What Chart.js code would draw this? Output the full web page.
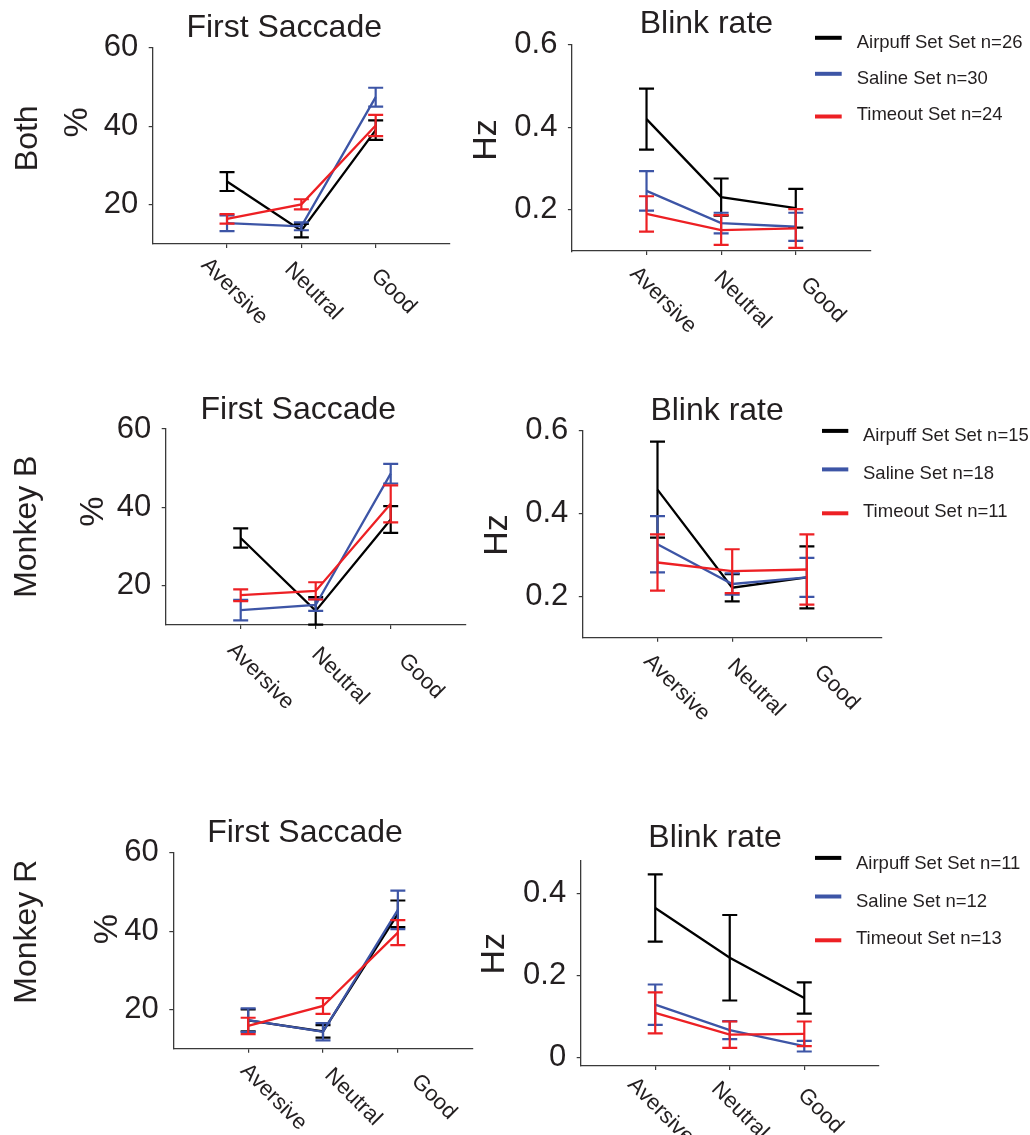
<!DOCTYPE html>
<html>
<head>
<meta charset="utf-8">
<title>First Saccade / Blink rate</title>
<script src="https://cdn.jsdelivr.net/npm/chart.js@4.4.1/dist/chart.umd.min.js"></script>
<style>
    html, body { margin: 0; padding: 0; background: #fff; }
    body { width: 1030px; height: 1135px; position: relative; overflow: hidden; }
    canvas { position: absolute; }
</style>
</head>
<body>
<canvas id="both-saccade"></canvas>
<canvas id="both-blink"></canvas>
<canvas id="monkeyB-saccade"></canvas>
<canvas id="monkeyB-blink"></canvas>
<canvas id="monkeyR-saccade"></canvas>
<canvas id="monkeyR-blink"></canvas>
<script>
// ================================
// Data
// ================================
const categories = ["Aversive", "Neutral", "Good"];
const seriesNames = ["Airpuff Set Set", "Saline Set", "Timeout Set"];
const seriesColors = ["#000000", "#3d55a6", "#ed2024"];

// rows = Airpuff, Saline, Timeout ; columns = Aversive, Neutral, Good
const bothCounts = [26, 30, 24];
const bothSaccadeMean = [[25.9, 13.4, 39.0], [15.3, 14.5, 47.4], [16.4, 20.1, 40.2]];
const bothSaccadeSem = [[2.4, 1.7, 2.5], [2.0, 1.0, 2.4], [1.2, 1.3, 2.7]];
const bothBlinkMean = [[0.42, 0.231, 0.204], [0.246, 0.168, 0.159], [0.19, 0.151, 0.155]];
const bothBlinkSem = [[0.074, 0.045, 0.047], [0.048, 0.025, 0.034], [0.043, 0.036, 0.047]];

const monkeyBCounts = [15, 18, 11];
const monkeyBSaccadeMean = [[32.2, 13.6, 36.9], [13.8, 15.1, 48.6], [17.6, 18.7, 40.9]];
const monkeyBSaccadeSem = [[2.45, 3.5, 3.4], [2.6, 1.5, 2.5], [1.5, 2.2, 4.7]];
const monkeyBBlinkMean = [[0.458, 0.221, 0.246], [0.326, 0.23, 0.246], [0.282, 0.261, 0.265]];
const monkeyBBlinkSem = [[0.116, 0.033, 0.075], [0.068, 0.026, 0.047], [0.068, 0.053, 0.085]];

const monkeyRCounts = [11, 12, 13];
const monkeyRSaccadeMean = [[17.2, 14.4, 44.4], [17.3, 14.3, 45.4], [15.8, 20.9, 39.6]];
const monkeyRSaccadeSem = [[2.8, 1.6, 3.4], [3.0, 2.2, 4.9], [2.1, 2.0, 3.2]];
const monkeyRBlinkMean = [[0.364, 0.243, 0.145], [0.129, 0.067, 0.028], [0.109, 0.056, 0.058]];
const monkeyRBlinkSem = [[0.082, 0.104, 0.038], [0.049, 0.022, 0.013], [0.05, 0.032, 0.03]];

const saccadeTicks = [20, 40, 60];
const blinkTicks = [0.2, 0.4, 0.6];
const blinkTicksR = [0, 0.2, 0.4];

// ================================
// Layout (page pixels)
// ================================
const FONT = '"Liberation Sans", Arial, Helvetica, sans-serif';
const INK = "#231f20";
const AXIS = "#3a3a3a";

const panels = [
    {
        id: "both-saccade", box: [0, 0, 480, 345], plot: [152.7, 47.7, 450, 244],
        means: bothSaccadeMean, sems: bothSaccadeSem, yMin: 10, yMax: 60, yTicks: saccadeTicks,
        title: "First Saccade", titleAt: [284.2, 25.5],
        row: "Both", rowAt: [25, 138.3], yLabel: "%", yLabelAt: [75.8, 122.5],
        labelShift: [38.3, 46],
    },
    {
        id: "both-blink", box: [460, 0, 570, 345], plot: [571.9, 44.9, 870.4, 251.1],
        means: bothBlinkMean, sems: bothBlinkSem, yMin: 0.1, yMax: 0.6, yTicks: blinkTicks,
        title: "Blink rate", titleAt: [706.4, 21.7],
        yLabel: "Hz", yLabelAt: [484, 140], labelShift: [47.6, 47.6],
        legend: { counts: bothCounts, lineX: [815, 841.7], lineYs: [37.8, 73.8, 116.5], textX: 856.7, textYs: [41.7, 77, 113] },
    },
    {
        id: "monkeyB-saccade", box: [0, 370, 480, 360], plot: [165.7, 429, 465.7, 625],
        means: monkeyBSaccadeMean, sems: monkeyBSaccadeSem, yMin: 10, yMax: 60, yTicks: saccadeTicks,
        title: "First Saccade", titleAt: [298.3, 407],
        row: "Monkey B", rowAt: [27.5, 526.7], yLabel: "%", yLabelAt: [91.7, 511.7],
        labelShift: [50.8, 50],
    },
    {
        id: "monkeyB-blink", box: [460, 370, 570, 360], plot: [582.8, 430.9, 881.6, 637.8],
        means: monkeyBBlinkMean, sems: monkeyBBlinkSem, yMin: 0.1, yMax: 0.6, yTicks: blinkTicks,
        title: "Blink rate", titleAt: [717.1, 408],
        yLabel: "Hz", yLabelAt: [495.8, 535], labelShift: [50.2, 48.5],
        legend: { counts: monkeyBCounts, lineX: [822, 848.3], lineYs: [430.9, 469.4, 513.3], textX: 863, textYs: [434.4, 472.2, 510.5] },
    },
    {
        id: "monkeyR-saccade", box: [0, 790, 480, 345], plot: [173.3, 852.7, 472.7, 1048.7],
        means: monkeyRSaccadeMean, sems: monkeyRSaccadeSem, yMin: 10, yMax: 60, yTicks: saccadeTicks,
        title: "First Saccade", titleAt: [305, 830.8],
        row: "Monkey R", rowAt: [27.5, 931.7], yLabel: "%", yLabelAt: [105, 929.2],
        labelShift: [56.5, 47],
    },
    {
        id: "monkeyR-blink", box: [460, 790, 570, 345], plot: [580.7, 860.3, 878.8, 1065.9],
        means: monkeyRBlinkMean, sems: monkeyRBlinkSem, yMin: -0.02, yMax: 0.48, yTicks: blinkTicksR,
        title: "Blink rate", titleAt: [715, 835.8],
        yLabel: "Hz", yLabelAt: [492.8, 953.8], labelShift: [36.5, 43.6],
        legend: { counts: monkeyRCounts, lineX: [815, 841.3], lineYs: [857.9, 896.5, 940.3], textX: 856, textYs: [862.4, 900, 937.5] },
    },
];

// ================================
// Plugins
// ================================
const errorBars = {
    id: "errorBars",
    afterDatasetDraw(chart, args) {
        const ds = chart.data.datasets[args.index];
        const { ctx } = chart;
        const xs = chart.scales.x;
        const ys = chart.scales.y;
        ctx.save();
        ctx.strokeStyle = ds.borderColor;
        ctx.lineWidth = 2.2;
        ds.data.forEach((pt, i) => {
            const px = xs.getPixelForValue(pt.x);
            const top = ys.getPixelForValue(pt.y + ds.sem[i]);
            const bot = ys.getPixelForValue(pt.y - ds.sem[i]);
            ctx.beginPath();
            ctx.moveTo(px, top);
            ctx.lineTo(px, bot);
            ctx.moveTo(px - 7.5, top);
            ctx.lineTo(px + 7.5, top);
            ctx.moveTo(px - 7.5, bot);
            ctx.lineTo(px + 7.5, bot);
            ctx.stroke();
        });
        ctx.restore();
    },
};

// text centred on its ink, optionally rotated around that centre
function inkText(ctx, text, cx, cy, size, angle) {
    ctx.save();
    ctx.font = `${size}px ${FONT}`;
    ctx.fillStyle = INK;
    ctx.textAlign = "center";
    ctx.textBaseline = "alphabetic";
    const m = ctx.measureText(text);
    const mid = (m.actualBoundingBoxAscent - m.actualBoundingBoxDescent) / 2;
    ctx.translate(cx, cy);
    ctx.rotate(angle || 0);
    ctx.fillText(text, 0, mid);
    ctx.restore();
}

function makePanelText(p) {
    const [bx, by] = p.box;
    return {
        id: "panelText",
        afterDraw(chart) {
            const { ctx } = chart;

            // category labels, turned 45 degrees clockwise
            const xs = chart.scales.x;
            const axisY = chart.chartArea.bottom;
            ctx.font = `22px ${FONT}`;
            categories.forEach((c, i) => {
                const w = ctx.measureText(c).width;
                const cx = xs.getPixelForValue(i + 1) + p.labelShift[0] - 0.354 * w;
                inkText(ctx, c, cx, axisY + p.labelShift[1], 22, Math.PI / 4);
            });

            inkText(ctx, p.title, p.titleAt[0] - bx, p.titleAt[1] - by, 32, 0);
            inkText(ctx, p.yLabel, p.yLabelAt[0] - bx, p.yLabelAt[1] - by, 34, -Math.PI / 2);
            if (p.row) {
                inkText(ctx, p.row, p.rowAt[0] - bx, p.rowAt[1] - by, 32, -Math.PI / 2);
            }

            if (p.legend) {
                const lg = p.legend;
                ctx.save();
                ctx.font = `18.5px ${FONT}`;
                ctx.textAlign = "left";
                ctx.textBaseline = "alphabetic";
                seriesNames.forEach((name, s) => {
                    ctx.strokeStyle = seriesColors[s];
                    ctx.lineWidth = 4;
                    ctx.beginPath();
                    ctx.moveTo(lg.lineX[0] - bx, lg.lineYs[s] - by);
                    ctx.lineTo(lg.lineX[1] - bx, lg.lineYs[s] - by);
                    ctx.stroke();
                    ctx.fillStyle = INK;
                    ctx.fillText(`${name} n=${lg.counts[s]}`, lg.textX - bx, lg.textYs[s] - by + 0.358 * 18.5);
                });
                ctx.restore();
            }
        },
    };
}

// ================================
// Charts
// ================================
const axisLine = { display: true, color: AXIS, width: 1.3 };
const tickMarks = { display: true, drawOnChartArea: false, drawTicks: true, tickLength: 4, color: AXIS, lineWidth: 1.2 };

panels.forEach((p) => {
    const [bx, by, bw, bh] = p.box;
    const [l, t, r, b] = p.plot;
    const canvas = document.getElementById(p.id);
    canvas.width = bw;
    canvas.height = bh;
    canvas.style.left = bx + "px";
    canvas.style.top = by + "px";

    new Chart(canvas, {
        type: "line",
        data: {
            datasets: seriesNames.map((name, s) => ({
                label: name,
                data: p.means[s].map((m, i) => ({ x: i + 1, y: m })),
                sem: p.sems[s],
                borderColor: seriesColors[s],
                borderWidth: 2.3,
                pointRadius: 0,
                fill: false,
                tension: 0,
                order: 3 - s,
            })),
        },
        options: {
            responsive: false,
            animation: false,
            events: [],
            layout: { padding: { left: 0, top: t - by, right: bx + bw - r, bottom: 0 } },
            plugins: {
                legend: { display: false },
                tooltip: { enabled: false },
            },
            scales: {
                x: {
                    type: "linear",
                    min: 0,
                    max: 4,
                    afterBuildTicks: (s) => { s.ticks = categories.map((c, i) => ({ value: i + 1 })); },
                    afterFit: (s) => { s.height = by + bh - b; },
                    ticks: { display: false },
                    grid: tickMarks,
                    border: axisLine,
                },
                y: {
                    type: "linear",
                    min: p.yMin,
                    max: p.yMax,
                    afterBuildTicks: (s) => { s.ticks = p.yTicks.map((v) => ({ value: v })); },
                    afterFit: (s) => { s.width = l - bx; },
                    ticks: {
                        color: INK,
                        padding: 10.5,
                        font: { family: FONT, size: 31 },
                        callback: (v) => String(v),
                    },
                    grid: tickMarks,
                    border: axisLine,
                },
            },
        },
        plugins: [errorBars, makePanelText(p)],
    });
});
</script>
</body>
</html>
